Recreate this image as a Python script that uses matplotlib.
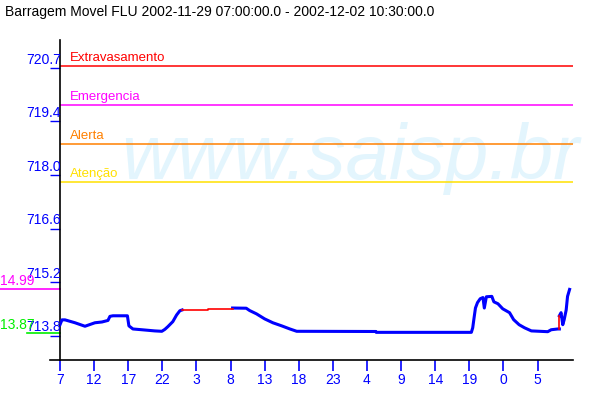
import numpy as np
import matplotlib
matplotlib.use("Agg")
import matplotlib.pyplot as plt

plt.rcParams['font.family'] = 'Liberation Sans'

nan = np.nan

# === Dados ===
title = "Barragem Movel FLU 2002-11-29 07:00:00.0 - 2002-12-02 10:30:00.0"

# horas desde 2002-11-29 07:00
nivel_horas = [0, 0.29, 0.73, 2.2, 3.66, 5.12, 6.15, 7.03, 7.32, 7.76, 9.88,
               10.1, 10.69, 12.0, 13.9, 14.93, 15.37, 15.81, 16.54, 17.09,
               17.57, 17.9, nan,
               25.3, 27.3, 27.8, 28.8, 30.0, 31.2, 32.5, 33.7, 34.7, 46.3,
               46.35, 60.3, 60.5, 60.7, 60.9, 61.2, 61.6, 62.0, 62.2, 62.5,
               63.3, 63.6, 64.2, 64.9, 65.9, 66.5, 67.3, 68.1, 69.1, 71.5,
               72.0, 72.96, 73.2, nan,
               73.2, 73.45, 73.7, 73.9, 74.2, 74.4, 74.7]
nivel_valores = [714.08, 714.205, 714.205, 714.13, 714.04, 714.13, 714.15,
                 714.19, 714.295, 714.31, 714.31,
                 714.05, 713.97, 713.95, 713.92, 713.91, 713.96, 714.03,
                 714.16, 714.33, 714.44, 714.46, nan,
                 714.51, 714.505, 714.445, 714.36, 714.23, 714.13, 714.05,
                 713.97, 713.91, 713.905,
                 713.883, 713.883, 714.0, 714.26, 714.51, 714.65, 714.75,
                 714.78, 714.51, 714.80,
                 714.81, 714.67, 714.62, 714.49, 714.39, 714.21, 714.08,
                 714.0, 713.92, 713.90,
                 713.95, 713.97, 713.97, nan,
                 714.31, 714.39, 714.08, 714.205, 714.46, 714.81, 714.99]

# trechos sem dado (em vermelho)
falha_horas = [17.9, 21.7, 21.7, 25.3, nan, 73.2, 73.2]
falha_valores = [714.46, 714.46, 714.49, 714.49, nan, 713.97, 714.31]

cotas_nomes = ['Extravasamento', 'Emergencia', 'Alerta', 'Atenção']
cotas_valores = [720.75, 719.75, 718.75, 717.75]
cotas_cores = ['#ff0000', '#ff00ff', '#ff8000', '#ffe000']

yticks_pos = np.linspace(713.8, 720.7, 6)
yticks_labels = ['713.8', '715.2', '716.6', '718.0', '719.4', '720.7']
xticks_pos = list(range(0, 75, 5))
xticks_labels = ['7', '12', '17', '22', '3', '8', '13', '18', '23', '4',
                 '9', '14', '19', '0', '5']

nivel_max, nivel_min = 714.99, 713.87
rotulo_max, rotulo_min = '14.99', '13.87'

# === Gráfico ===
fig = plt.figure(figsize=(6, 4), dpi=100)
ax = fig.add_axes([0.1, 0.1, 0.855, 0.8])
ax.set_xlim(0, 75.2)
ax.set_ylim(713.17, 721.42)

for s in ['top', 'right', 'bottom']:
    ax.spines[s].set_visible(False)
ax.spines['left'].set_color('black')
ax.spines['left'].set_linewidth(1.2)
ax.plot([-0.0195, 1], [0, 0], transform=ax.transAxes, color='black',
        lw=1.2, clip_on=False)

# marca d'água
ax.text(0.12, 0.565, 'www.saisp.br', transform=ax.transAxes, fontsize=56,
        style='italic', color='#e3f5fd', ha='left', va='baseline',
        zorder=0, clip_on=False)

# cotas de referência
for nome, val, cor in zip(cotas_nomes, cotas_valores, cotas_cores):
    ax.axhline(val, color=cor, lw=1.1, zorder=2)
    ax.text(0.0195, val + 0.13, nome, transform=ax.get_yaxis_transform(),
            color=cor, fontsize=9.5, ha='left', va='baseline')

# série
ax.plot(nivel_horas, nivel_valores, color='#0000ff', lw=2.2, zorder=3)
ax.plot(falha_horas, falha_valores, color='#ff0000', lw=1.2, zorder=3)

# eixo x
ax.set_xticks(xticks_pos)
ax.set_xticklabels(xticks_labels)
ax.tick_params(axis='x', colors='#0000ff', length=8, width=1.2, pad=1,
               labelsize=10)

# eixo y: traço + rótulo acima do traço
ax.set_yticks(yticks_pos)
ax.set_yticklabels([])
ax.tick_params(axis='y', colors='#0000ff', length=7.5, width=1)
ytr = ax.get_yaxis_transform()
for pos, lab in zip(yticks_pos, yticks_labels):
    ax.text(0.002, pos + 0.03, lab, transform=ytr, color='#0000ff',
            fontsize=10, ha='right', va='bottom', clip_on=False)

# máximo e mínimo à esquerda
ax.plot([-0.117, 0], [nivel_max, nivel_max], transform=ytr, color='#ff00ff',
        lw=1.2, clip_on=False)
ax.text(-0.117, nivel_max + 0.03, rotulo_max, transform=ytr, color='#ff00ff',
        fontsize=10, ha='left', va='bottom', clip_on=False)
ax.plot([-0.064, 0], [nivel_min, nivel_min], transform=ytr, color='#00ee00',
        lw=1.2, clip_on=False)
ax.text(-0.117, nivel_min + 0.03, rotulo_min, transform=ytr, color='#00ee00',
        fontsize=10, ha='left', va='bottom', clip_on=False)

fig.text(5 / 600, 1 - 16 / 400, title, fontsize=10, color='black',
         ha='left', va='baseline')

fig.savefig('out.png', dpi=100)
